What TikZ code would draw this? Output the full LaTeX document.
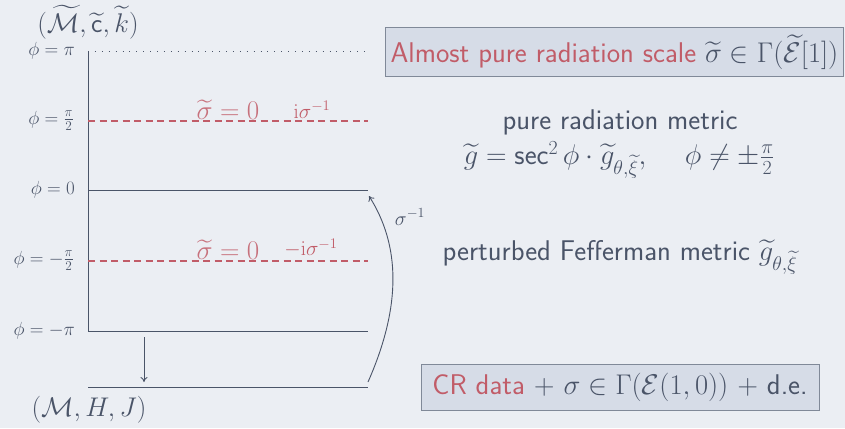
\RequirePackage{fix-cm}
\documentclass[tikz,border=0pt]{standalone}
\usepackage{amsmath,amssymb}
\renewcommand{\familydefault}{\sfdefault}
\usetikzlibrary{arrows.meta}
\definecolor{bg}{RGB}{235,238,243}
\definecolor{fg}{RGB}{74,84,104}
\definecolor{rd}{RGB}{193,92,104}
\definecolor{boxfill}{RGB}{214,220,231}
\definecolor{boxdraw}{RGB}{128,137,152}
\tikzset{
  lvl/.style={draw=fg, line width=0.9pt},
  redlvl/.style={draw=rd, line width=1.8pt, dash pattern=on 7pt off 4.5pt},
  dotlvl/.style={draw=fg, line width=0.9pt, dash pattern=on 0.9pt off 6pt},
  philab/.style={anchor=east, text=fg, font=\fontsize{19}{22}\selectfont, inner sep=0pt},
  zerolab/.style={text=rd, opacity=0.85, font=\fontsize{27}{31}\selectfont, inner sep=0pt},
  smalllab/.style={text=rd, font=\fontsize{21}{24}\selectfont, inner sep=0pt},
  mfd/.style={text=fg, font=\fontsize{27}{31}\selectfont, inner sep=0pt},
  infobox/.style={draw=boxdraw, fill=boxfill, line width=1pt, text=fg, font=\fontsize{28.5}{32}\selectfont, inner sep=0pt, minimum height=49pt},
  plain/.style={text=fg, font=\fontsize{28.5}{32}\selectfont, inner sep=0pt},
  arr/.style={draw=fg, line width=0.9pt, -{To[length=5pt,width=7pt]}},
}
\begin{document}
\begin{tikzpicture}[x=1pt,y=-1pt]
\fill[bg] (0,0) rectangle (845,428);
\useasboundingbox (0,0) rectangle (845,428);

% levels
\coordinate (top) at (88,51);
\coordinate (topR) at (366,51);
\coordinate (h1L) at (88,121);
\coordinate (h1R) at (368,121);
\coordinate (zL) at (88,190);
\coordinate (zR) at (368,190);
\coordinate (h2L) at (88,261);
\coordinate (h2R) at (368,261);
\coordinate (mL) at (88,331);
\coordinate (mR) at (368,331);
\coordinate (bL) at (88,387);
\coordinate (bR) at (368,387);
\coordinate (dA) at (144,337);
\coordinate (dB) at (144,382);
\coordinate (cS) at (368,382);
\coordinate (cE) at (369,196);

\draw[dotlvl] (top) -- (topR);
\draw[lvl] (top) -- (mL);
\draw[redlvl] (h1L) -- (h1R);
\draw[lvl] (zL) -- (zR);
\draw[redlvl] (h2L) -- (h2R);
\draw[lvl] (mL) -- (mR);
\draw[lvl] (bL) -- (bR);
\draw[arr] (dA) -- (dB);
\draw[arr] (cS) .. controls (402,305) and (400,245) .. (cE);

% left labels
\node[philab] (lpi) at (75,51) {$\phi=\pi$};
\node[philab] (lh1) at (74,121) {$\phi=\frac{\pi}{2}$};
\node[philab] (lz) at (75,190) {$\phi=0$};
\node[philab] (lh2) at (74,261) {$\phi=-\frac{\pi}{2}$};
\node[philab] (lm) at (75,331) {$\phi=-\pi$};

% manifolds
\node[mfd] (Mt) at (88,22) {$(\widetilde{\mathcal{M}},\widetilde{\mathsf{c}},\widetilde{k})$};
\node[mfd] (M) at (89,410) {$(\mathcal{M},H,J)$};

% red labels
\node[zerolab] (s1) at (228,110) {$\widetilde{\sigma}=0$};
\node[smalllab] (i1) at (312,110) {$\mathrm{i}\sigma^{-1}$};
\node[zerolab] (s2) at (228,250) {$\widetilde{\sigma}=0$};
\node[smalllab] (i2) at (311,248) {$-\mathrm{i}\sigma^{-1}$};
\node[text=fg, font=\fontsize{20}{23}\selectfont, inner sep=0pt] (sinv) at (410,217) {$\sigma^{-1}$};

% right side
\node[infobox, anchor=west, minimum width=458pt] (box1) at (385,52) {\textcolor{rd}{Almost pure radiation scale} $\widetilde{\sigma}\in\Gamma(\widetilde{\mathcal{E}}[1])$};
\node[plain] (prm) at (620,122) {pure radiation metric};
\node[plain] (prf) at (619,160) {$\widetilde{g}=\operatorname{\mathsf{sec}}^2\phi\cdot\widetilde{g}_{\theta,\widetilde{\xi}},\hspace{34pt}\phi\neq\pm\frac{\pi}{2}$};
\node[plain] (pfm) at (620,257) {perturbed Fefferman metric $\widetilde{g}_{\theta,\widetilde{\xi}}$};
\node[infobox, minimum width=398pt, minimum height=46pt] (box2) at (620,387) {\textcolor{rd}{CR data} + $\sigma\in\Gamma(\mathcal{E}(1,0))$ + d.e.};
\end{tikzpicture}
\end{document}
